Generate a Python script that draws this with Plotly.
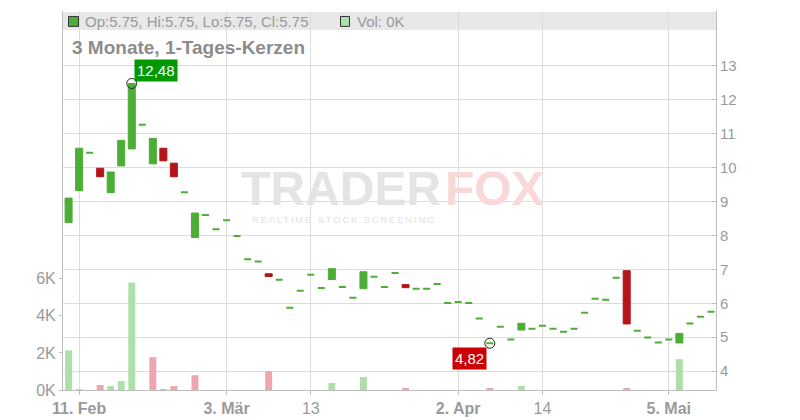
import plotly.graph_objects as go

# ---------------- data ----------------
dates = [
    "2025-02-10", "2025-02-11", "2025-02-12", "2025-02-13", "2025-02-14",
    "2025-02-17", "2025-02-18", "2025-02-19", "2025-02-20", "2025-02-21",
    "2025-02-24", "2025-02-25", "2025-02-26", "2025-02-27", "2025-02-28",
    "2025-03-03", "2025-03-04", "2025-03-05", "2025-03-06", "2025-03-07",
    "2025-03-10", "2025-03-11", "2025-03-12", "2025-03-13", "2025-03-14",
    "2025-03-17", "2025-03-18", "2025-03-19", "2025-03-20", "2025-03-21",
    "2025-03-24", "2025-03-25", "2025-03-26", "2025-03-27", "2025-03-28",
    "2025-03-31", "2025-04-01", "2025-04-02", "2025-04-03", "2025-04-04",
    "2025-04-07", "2025-04-08", "2025-04-09", "2025-04-10", "2025-04-11",
    "2025-04-14", "2025-04-15", "2025-04-16", "2025-04-17", "2025-04-22",
    "2025-04-23", "2025-04-24", "2025-04-25", "2025-04-28", "2025-04-29",
    "2025-04-30", "2025-05-02", "2025-05-05", "2025-05-06", "2025-05-07",
    "2025-05-08", "2025-05-09",
]
opens = [
    8.38, 9.32, 10.44, 9.98, 9.26, 10.05, 10.55, 11.26, 10.11, 10.57,
    10.13, 9.27, 7.94, 8.60, 8.18, 8.45, 7.98, 7.30, 7.23, 6.87,
    6.69, 5.87, 6.37, 6.84, 6.45, 6.70, 6.48, 6.16, 6.43, 6.78,
    6.48, 6.89, 6.55, 6.43, 6.43, 6.57, 6.01, 6.04, 6.01, 5.55,
    4.82, 5.31, 4.93, 5.21, 5.25, 5.34, 5.25, 5.16, 5.25, 5.72,
    6.13, 6.10, 6.75, 6.96, 5.19, 4.99, 4.84, 4.93, 4.83, 5.40,
    5.60, 5.75,
]
closes = [
    9.10, 10.57, 10.44, 9.73, 9.87, 10.80, 12.48, 11.26, 10.86, 10.20,
    9.73, 9.27, 8.66, 8.60, 8.18, 8.45, 7.98, 7.30, 7.23, 6.79,
    6.69, 5.87, 6.37, 6.84, 6.45, 7.02, 6.48, 6.16, 6.93, 6.78,
    6.48, 6.89, 6.46, 6.43, 6.43, 6.57, 6.01, 6.04, 6.01, 5.55,
    4.82, 5.31, 4.93, 5.41, 5.25, 5.34, 5.25, 5.16, 5.25, 5.72,
    6.13, 6.10, 6.75, 5.39, 5.19, 4.99, 4.84, 4.93, 5.11, 5.40,
    5.60, 5.75,
]
volumes = [
    2140, 50, 0, 270, 210, 480, 5790, 0, 1770, 50,
    210, 0, 800, 0, 0, 0, 0, 0, 0, 1020,
    0, 0, 0, 0, 0, 380, 0, 0, 700, 0,
    0, 0, 80, 0, 0, 0, 0, 0, 0, 0,
    80, 0, 0, 220, 0, 0, 0, 0, 0, 0,
    0, 0, 0, 80, 0, 0, 0, 0, 1660, 0,
    0, 0,
]
tick_dates = ["2025-02-11", "2025-03-03", "2025-03-13", "2025-04-02", "2025-04-14", "2025-05-05"]
tick_labels = ["<b>11. Feb</b>", "<b>3. Mär</b>", "13", "<b>2. Apr</b>", "14", "<b>5. Mai</b>"]
price_ticks = [4, 5, 6, 7, 8, 9, 10, 11, 12, 13]
vol_ticks = [0, 2000, 4000, 6000]
vol_labels = ["0K", "2K", "4K", "6K"]
high_label, low_label = "12,48", "4,82"
legend_text = "Op:5.75, Hi:5.75, Lo:5.75, Cl:5.75"
vol_text = "Vol: 0K"
title_text = "3 Monate, 1-Tages-Kerzen"

# ---------------- styling ----------------
GREEN = "#4cae36"
RED = "#b31518"
VGREEN = "#ace0a8"
VPINK = "#eea6ae"
GRID = "#dcdcdc"
AXIS = "#bdbdbd"
TXT = "#9a9a9a"
FONT = "Liberation Sans, Arial, sans-serif"

# the page body has an 8px default margin: figure is sized/offset to compensate
OFF = 8
W, H = 800 - OFF, 420 - OFF
L, R, T, B = 63, 716, 11, 392          # plot area in page pixels


def px2x(px):
    return (px - L) / (R - L)


def px2y(py):
    return (B - py) / (B - T)


highs = [max(o, c) for o, c in zip(opens, closes)]
lows = [min(o, c) for o, c in zip(opens, closes)]
flat = [o == c for o, c in zip(opens, closes)]

vol_colors = []
for i, c in enumerate(closes):
    if i == 0 or c >= closes[i - 1]:
        vol_colors.append(VGREEN)
    else:
        vol_colors.append(VPINK)


def sel(arr, keep):
    return [a if k else None for a, k in zip(arr, keep)]


body = [not f for f in flat]

fig = go.Figure()

fig.add_trace(go.Bar(
    x=dates, y=volumes, yaxis="y2", marker=dict(color=vol_colors, line=dict(width=0)),
    width=0.66, hoverinfo="skip", showlegend=False,
))

fig.add_trace(go.Candlestick(
    x=dates, open=sel(opens, body), high=sel(highs, body), low=sel(lows, body), close=sel(closes, body),
    increasing=dict(line=dict(color=GREEN, width=1), fillcolor=GREEN),
    decreasing=dict(line=dict(color=RED, width=1), fillcolor=RED),
    whiskerwidth=0, showlegend=False, yaxis="y",
))

fig.add_trace(go.Candlestick(
    x=dates, open=sel(opens, flat), high=sel(highs, flat), low=sel(lows, flat), close=sel(closes, flat),
    increasing=dict(line=dict(color=GREEN, width=2), fillcolor=GREEN),
    decreasing=dict(line=dict(color=GREEN, width=2), fillcolor=GREEN),
    whiskerwidth=0, showlegend=False, yaxis="y",
))

# high / low markers
i_hi = max(range(len(highs)), key=lambda i: highs[i])
i_lo = min(range(len(lows)), key=lambda i: lows[i])
fig.add_trace(go.Scatter(
    x=[dates[i_hi], dates[i_lo]], y=[highs[i_hi], lows[i_lo]], mode="markers",
    marker=dict(symbol="circle-open", size=10, color="#222222", line=dict(width=1, color="#222222")),
    showlegend=False, hoverinfo="skip",
))

shapes = [
    dict(type="rect", xref="paper", yref="paper", x0=0, x1=1, y0=px2y(30), y1=px2y(12),
         fillcolor="#e8e8e8", line=dict(width=0), layer="below"),
    dict(type="rect", xref="paper", yref="paper", x0=px2x(68.5), x1=px2x(78.5), y0=px2y(26.5), y1=px2y(16.5),
         fillcolor=GREEN, line=dict(width=1, color="#333333")),
    dict(type="rect", xref="paper", yref="paper", x0=px2x(340.5), x1=px2x(349.5), y0=px2y(26.5), y1=px2y(16.5),
         fillcolor=VGREEN, line=dict(width=1, color="#333333")),
]

annotations = [
    dict(text=legend_text, xref="paper", yref="paper", x=px2x(83), y=px2y(21.5), xanchor="left", yanchor="middle",
         showarrow=False, font=dict(family=FONT, size=15, color=TXT)),
    dict(text=vol_text, xref="paper", yref="paper", x=px2x(355), y=px2y(21.5), xanchor="left", yanchor="middle",
         showarrow=False, font=dict(family=FONT, size=15, color=TXT)),
    dict(text="<b>" + title_text + "</b>", xref="paper", yref="paper", x=px2x(70), y=px2y(48), xanchor="left",
         yanchor="middle", showarrow=False, font=dict(family=FONT, size=19, color="#8c8c8c")),
    # watermark
    dict(text="<b>TRADER</b>", xref="paper", yref="paper", x=px2x(443), y=px2y(189), xanchor="right",
         yanchor="middle", showarrow=False, font=dict(family=FONT, size=48, color="#e4e4e4")),
    dict(text="<b>FOX</b>", xref="paper", yref="paper", x=px2x(443), y=px2y(189), xanchor="left",
         yanchor="middle", showarrow=False, font=dict(family=FONT, size=48, color="#f8d8d8")),
    dict(text='<span style="letter-spacing:1.8px">REALTIME STOCK SCREENING</span>', xref="paper", yref="paper",
         x=px2x(250), y=px2y(221), xanchor="left", yanchor="middle", showarrow=False,
         font=dict(family=FONT, size=9.5, color="#e2e2e2")),
    # high / low labels
    dict(text=high_label, x=dates[i_hi], y=highs[i_hi], xref="x", yref="y", showarrow=False,
         xshift=24, yshift=13, bgcolor="#009a00", borderpad=2,
         font=dict(family=FONT, size=15, color="white")),
    dict(text=low_label, x=dates[i_lo], y=lows[i_lo], xref="x", yref="y", showarrow=False,
         xshift=-20, yshift=-15, bgcolor="#cc0000", borderpad=2,
         font=dict(family=FONT, size=15, color="white")),
]

fig.update_layout(
    width=W, height=H,
    margin=dict(l=L - OFF, r=800 - R, t=T - OFF, b=420 - B, pad=0),
    paper_bgcolor="white", plot_bgcolor="white",
    boxgap=0.05, boxgroupgap=0.3,
    shapes=shapes, annotations=annotations,
    xaxis=dict(
        type="category", categoryorder="array", categoryarray=dates,
        range=[-0.53, len(dates) - 0.52],
        tickvals=tick_dates, ticktext=tick_labels,
        showgrid=True, gridcolor=GRID, gridwidth=1,
        showline=True, linecolor=AXIS, linewidth=1,
        ticks="outside", ticklen=4, tickcolor=AXIS,
        tickfont=dict(family=FONT, size=16, color=TXT),
        rangeslider=dict(visible=False), fixedrange=True,
    ),
    yaxis=dict(
        side="right", range=[3.443, 14.616], tickvals=price_ticks,
        showgrid=True, gridcolor=GRID, gridwidth=1, zeroline=False,
        showline=True, linecolor=AXIS, linewidth=1,
        ticks="inside", ticklen=4, tickcolor=AXIS,
        tickfont=dict(family=FONT, size=15, color=TXT),
    ),
    yaxis2=dict(
        overlaying="y", side="left", range=[0, 20430],
        tickvals=vol_ticks, ticktext=vol_labels,
        showgrid=False, zeroline=False,
        showline=True, linecolor=AXIS, linewidth=1,
        ticks="outside", ticklen=3, tickcolor=AXIS,
        tickfont=dict(family=FONT, size=16, color=TXT),
    ),
    bargap=0.34,
)

fig.write_html("out.html")
